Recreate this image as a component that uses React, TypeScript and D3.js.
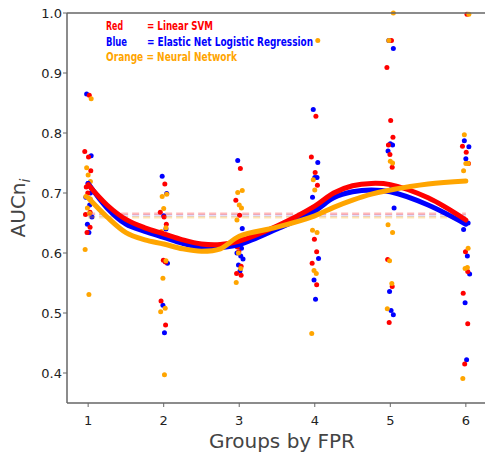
import React from "react";
import * as d3 from "d3";

const W = 485;
const H = 458;

const GROUPS = [1, 2, 3, 4, 5, 6];
const X_TICKS = ["1", "2", "3", "4", "5", "6"];
const Y_TICKS = [0.4, 0.5, 0.6, 0.7, 0.8, 0.9, 1.0];

const COLORS = { red: "#ff0000", blue: "#0000ff", orange: "#ffa500" };

// dot values per group
const redDots = [
  [0.863, 0.769, 0.760, 0.737, 0.710, 0.700, 0.668, 0.664, 0.643, 0.634],
  [0.715, 0.668, 0.660, 0.648, 0.632, 0.588, 0.585, 0.520, 0.480],
  [0.741, 0.688, 0.663, 0.625, 0.610, 0.602, 0.578, 0.566, 0.563],
  [0.828, 0.760, 0.734, 0.713, 0.675, 0.623, 0.602, 0.583, 0.547],
  [0.954, 0.909, 0.821, 0.793, 0.780, 0.764, 0.743, 0.589, 0.544, 0.484],
  [0.998, 0.778, 0.768, 0.749, 0.652, 0.602, 0.569, 0.533, 0.482, 0.415],
];
const blueDots = [
  [0.865, 0.762, 0.716, 0.700, 0.693, 0.680, 0.660, 0.648, 0.634],
  [0.728, 0.699, 0.662, 0.640, 0.630, 0.586, 0.583, 0.513, 0.467],
  [0.754, 0.641, 0.619, 0.608, 0.600, 0.595, 0.590, 0.580, 0.570],
  [0.839, 0.751, 0.726, 0.726, 0.693, 0.668, 0.591, 0.555, 0.523],
  [0.954, 0.941, 0.782, 0.780, 0.770, 0.708, 0.675, 0.536, 0.504, 0.497],
  [0.787, 0.777, 0.757, 0.650, 0.639, 0.595, 0.565, 0.517, 0.422],
];
const orangeDots = [
  [0.857, 0.742, 0.730, 0.719, 0.694, 0.690, 0.675, 0.666, 0.606, 0.531],
  [0.698, 0.694, 0.674, 0.642, 0.636, 0.587, 0.558, 0.508, 0.502, 0.397],
  [0.704, 0.701, 0.680, 0.675, 0.655, 0.617, 0.600, 0.574, 0.551],
  [0.954, 0.722, 0.705, 0.677, 0.638, 0.634, 0.571, 0.566, 0.466],
  [1.0, 0.954, 0.753, 0.750, 0.647, 0.634, 0.587, 0.549, 0.507],
  [0.998, 0.797, 0.749, 0.749, 0.737, 0.608, 0.574, 0.576, 0.391],
];
const JITTER = [-0.03, 0.03, -0.01, 0.02, -0.04, 0.01, 0.04, -0.02, 0.0, 0.03];

// smoothed fit curves
const curveX = [1, 1.25, 1.5, 1.75, 2, 2.25, 2.5, 2.75, 3, 3.5, 4, 4.25, 4.5, 4.75, 5, 5.5, 6];
const redCurve = [0.714, 0.680, 0.656, 0.642, 0.632, 0.622, 0.615, 0.614, 0.620, 0.645, 0.678, 0.700, 0.712, 0.716, 0.714, 0.692, 0.655];
const blueCurve = [0.716, 0.675, 0.648, 0.636, 0.626, 0.616, 0.609, 0.609, 0.614, 0.640, 0.670, 0.692, 0.702, 0.705, 0.702, 0.680, 0.648];
const orangeCurve = [0.692, 0.660, 0.634, 0.622, 0.615, 0.607, 0.603, 0.607, 0.628, 0.643, 0.662, 0.676, 0.688, 0.698, 0.705, 0.715, 0.720];

// mean reference lines
const MEANS = [
  { color: COLORS.orange, value: 0.6595, opacity: 0.3 },
  { color: COLORS.blue, value: 0.6625, opacity: 0.12 },
  { color: COLORS.red, value: 0.6655, opacity: 0.28 },
];

const LEGEND = [
  { name: "Red", label: "= Linear SVM", color: COLORS.red, nameW: 17, labelW: 66 },
  { name: "Blue", label: "= Elastic Net Logistic Regression", color: COLORS.blue, nameW: 21, labelW: 166 },
  { name: "Orange", label: "= Neural Network", color: COLORS.orange, nameW: 0, labelW: 131 },
];

export default function App() {
  const left = 67;
  const top = 13;
  const bottom = 403;
  const x = d3.scaleLinear().domain([0.72, 6.28]).range([left, 487]);
  const y = d3.scaleLinear().domain([0.35, 1.0]).range([bottom, top]);

  const line = (vals: number[]) =>
    d3
      .line<number>()
      .x((_, i) => x(curveX[i]))
      .y((v) => y(v))
      .curve(d3.curveCatmullRom.alpha(0.5))(vals) || "";

  const dotSets = [
    { data: blueDots, color: COLORS.blue, off: 0.01 },
    { data: redDots, color: COLORS.red, off: -0.005 },
    { data: orangeDots, color: COLORS.orange, off: 0.0 },
  ];

  const font = "'DejaVu Sans', sans-serif";
  const axisColor = "#666";

  return (
    <svg
      width={W}
      height={H}
      style={{ position: "absolute", left: 0, top: 0, background: "#fff" }}
    >
      <rect width={W} height={H} fill="#fff" />
      {/* dots */}
      {dotSets.map((s, si) =>
        s.data.map((vals, gi) =>
          vals.map((v, i) => (
            <circle
              key={`${si}-${gi}-${i}`}
              cx={x(GROUPS[gi] + JITTER[(i + si * 3) % JITTER.length] + s.off)}
              cy={y(v)}
              r={2.5}
              fill={s.color}
            />
          ))
        )
      )}
      {/* mean dashed lines */}
      {MEANS.map((m, i) => (
        <line
          key={i}
          x1={x(1)}
          x2={x(6)}
          y1={y(m.value)}
          y2={y(m.value)}
          stroke={m.color}
          strokeOpacity={m.opacity}
          strokeWidth={2.5}
          strokeDasharray="7,4"
        />
      ))}
      {/* curves */}
      <path d={line(blueCurve)} fill="none" stroke={COLORS.blue} strokeWidth={5} strokeLinecap="round" />
      <path d={line(redCurve)} fill="none" stroke={COLORS.red} strokeWidth={5} strokeLinecap="round" />
      <path d={line(orangeCurve)} fill="none" stroke={COLORS.orange} strokeWidth={5} strokeLinecap="round" />

      {/* spines */}
      <line x1={left} x2={left} y1={top} y2={bottom} stroke={axisColor} strokeWidth={1.5} />
      <line x1={left} x2={W} y1={bottom} y2={bottom} stroke={axisColor} strokeWidth={1.5} />
      <line x1={left} x2={W} y1={top} y2={top} stroke={axisColor} strokeWidth={1.5} />

      {/* y ticks */}
      {Y_TICKS.map((t) => (
        <g key={t}>
          <line x1={left - 4} x2={left} y1={y(t)} y2={y(t)} stroke={axisColor} strokeWidth={1} />
          <text
            x={left - 5}
            y={y(t)}
            dy="0.35em"
            textAnchor="end"
            fontFamily={font}
            fontSize={13}
            fill="#222"
          >
            {t.toFixed(1)}
          </text>
        </g>
      ))}
      {/* x ticks */}
      {GROUPS.map((g, i) => (
        <g key={g}>
          <line x1={x(g)} x2={x(g)} y1={bottom} y2={bottom + 4} stroke={axisColor} strokeWidth={1} />
          <text
            x={x(g)}
            y={bottom + 17}
            dy="0.35em"
            textAnchor="middle"
            fontFamily={font}
            fontSize={13}
            fill="#222"
          >
            {X_TICKS[i]}
          </text>
        </g>
      ))}

      {/* axis titles */}
      <text
        transform={`translate(25, ${(top + bottom) / 2}) rotate(-90)`}
        textAnchor="middle"
        fontFamily={font}
        fontSize={20}
        fill="#444"
      >
        AUCn
        <tspan fontStyle="italic" fontSize={14} dy={5}>i</tspan>
      </text>
      <text
        x={282}
        y={448}
        textAnchor="middle"
        fontFamily={font}
        fontSize={20}
        fill="#444"
      >
        Groups by FPR
      </text>

      {/* legend */}
      {LEGEND.map((l, i) =>
        l.name === "Orange" ? (
          <text
            key={l.name}
            x={106}
            y={30 + i * 15.7}
            fontFamily={font}
            fontWeight="bold"
            fontSize={11.5}
            fill={l.color}
            textLength={l.labelW}
            lengthAdjust="spacingAndGlyphs"
          >
            {`${l.name} ${l.label}`}
          </text>
        ) : (
          <g key={l.name}>
            <text
              x={106}
              y={30 + i * 15.7}
              fontFamily={font}
              fontWeight="bold"
              fontSize={11.5}
              fill={l.color}
              textLength={l.nameW}
              lengthAdjust="spacingAndGlyphs"
            >
              {l.name}
            </text>
            <text
              x={147}
              y={30 + i * 15.7}
              fontFamily={font}
              fontWeight="bold"
              fontSize={11.5}
              fill={l.color}
              textLength={l.labelW}
              lengthAdjust="spacingAndGlyphs"
            >
              {l.label}
            </text>
          </g>
        )
      )}
    </svg>
  );
}
